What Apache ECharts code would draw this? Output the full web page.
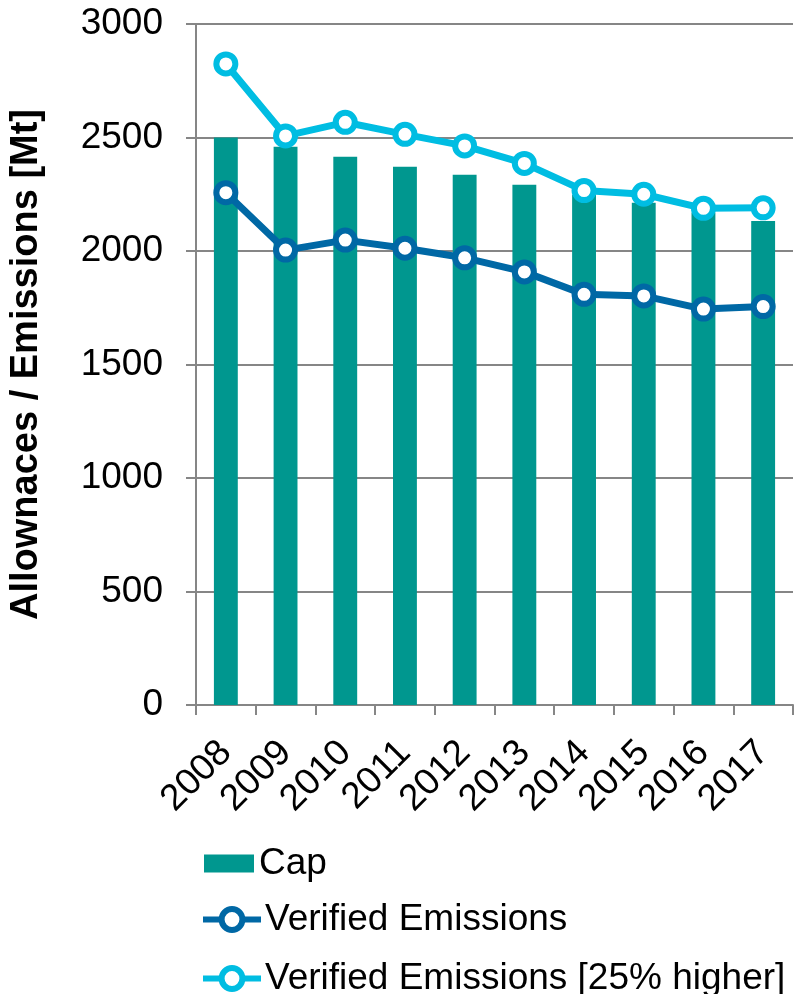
<!DOCTYPE html>
<html>
<head>
<meta charset="utf-8">
<script src="https://cdn.jsdelivr.net/npm/echarts@6/dist/echarts.min.js"></script>
<style>
  html, body { margin: 0; padding: 0; background: #fff; }
  #chart { width: 794px; height: 994px; }
</style>
</head>
<body>
<div id="chart"></div>
<script>
// Years on the category axis
const years = ['2008', '2009', '2010', '2011', '2012', '2013', '2014', '2015', '2016', '2017'];
// Allowance cap per year [Mt]
const cap = [2500, 2459, 2415, 2371, 2336, 2292, 2248, 2213, 2170, 2132];
// Verified emissions per year [Mt]
const verified = [2257, 2004, 2048, 2012, 1970, 1908, 1809, 1802, 1744, 1755];
// Verified emissions scaled up by 25% [Mt]
const verifiedHigh = [2824, 2507, 2567, 2514, 2463, 2386, 2266, 2250, 2188, 2190];
// Value-axis tick labels
const yTicks = [0, 500, 1000, 1500, 2000, 2500, 3000];

const FONT = '"Liberation Sans", Arial, sans-serif';
const GREY = '#868686';
const TEAL = '#00978F';
const BLUE = '#0068A5';
const CYAN = '#00BDE2';

// One legend block per entry so the rows can be stacked on the left
function legendRow(name, top, opts) {
  return Object.assign({
    orient: 'vertical',
    left: 195,
    top: top,
    itemGap: 0,
    textStyle: { fontFamily: FONT, fontSize: 37, color: '#000' },
    data: [name]
  }, opts);
}

const chart = echarts.init(document.getElementById('chart'), null, { renderer: 'canvas' });

chart.setOption({
  animation: false,
  backgroundColor: '#ffffff',
  textStyle: { fontFamily: FONT, color: '#000' },
  grid: { left: 192, right: 1, top: 24, bottom: 289, containLabel: false },
  legend: [
    legendRow('Cap', 840, {
      left: 199,
      icon: 'rect',
      itemWidth: 50,
      itemHeight: 18,
      textStyle: { fontFamily: FONT, fontSize: 37, color: '#000', padding: [0, 0, 0, 0] }
    }),
    legendRow('Verified Emissions', 896, {
      itemWidth: 58,
      itemHeight: 26,
      lineStyle: { width: 6 },
      itemStyle: { borderWidth: 6 },
      textStyle: { fontFamily: FONT, fontSize: 37, color: '#000', padding: [0, 0, 0, -1] }
    }),
    legendRow('Verified Emissions [25% higher]', 955, {
      itemWidth: 58,
      itemHeight: 26,
      lineStyle: { width: 6 },
      itemStyle: { borderWidth: 6 },
      textStyle: { fontFamily: FONT, fontSize: 37, color: '#000', padding: [0, 0, 0, -1] }
    })
  ],
  xAxis: {
    type: 'category',
    data: years,
    boundaryGap: true,
    axisLine: { lineStyle: { color: GREY, width: 2 } },
    axisTick: { show: true, length: 10, alignWithLabel: false, lineStyle: { color: GREY, width: 2 } },
    axisLabel: {
      interval: 0,
      rotate: 45,
      margin: 42,
      fontSize: 37,
      fontFamily: FONT,
      color: '#000'
    }
  },
  yAxis: {
    type: 'value',
    min: yTicks[0],
    max: yTicks[yTicks.length - 1],
    interval: 500,
    name: 'Allownaces / Emissions [Mt]',
    nameLocation: 'middle',
    nameGap: 150,
    nameTextStyle: { fontFamily: FONT, fontSize: 38, fontWeight: 'bold', color: '#000' },
    axisLine: { show: true, lineStyle: { color: GREY, width: 2 } },
    axisTick: { show: true, length: 10, lineStyle: { color: GREY, width: 2 } },
    axisLabel: {
      margin: 33,
      fontSize: 37,
      fontFamily: FONT,
      color: '#000',
      formatter: v => String(v)
    },
    splitLine: { show: true, lineStyle: { color: GREY, width: 2 } }
  },
  series: [
    {
      name: 'Cap',
      type: 'bar',
      data: cap,
      barWidth: '40%',
      itemStyle: { color: TEAL },
      z: 1
    },
    {
      name: 'Verified Emissions',
      type: 'line',
      data: verified,
      symbol: 'circle',
      symbolSize: 19,
      lineStyle: { color: BLUE, width: 7 },
      itemStyle: { color: '#ffffff', borderColor: BLUE, borderWidth: 6 },
      z: 3
    },
    {
      name: 'Verified Emissions [25% higher]',
      type: 'line',
      data: verifiedHigh,
      symbol: 'circle',
      symbolSize: 19,
      lineStyle: { color: CYAN, width: 7 },
      itemStyle: { color: '#ffffff', borderColor: CYAN, borderWidth: 6 },
      z: 3
    }
  ]
});
</script>
</body>
</html>
